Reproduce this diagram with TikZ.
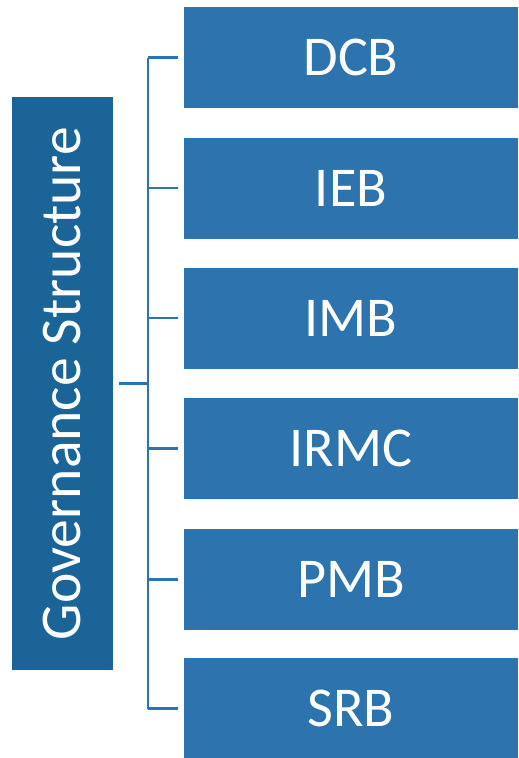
\documentclass[tikz,border=0pt]{standalone}
\usepackage{fontspec}
\setmainfont{Carlito}
\definecolor{govblue}{HTML}{1B6498}
\definecolor{boardblue}{HTML}{2D73AD}
\tikzset{
  board/.style={fill=boardblue, text=white, minimum width=334*0.02cm, minimum height=101*0.02cm, inner sep=0pt, font=\fontsize{32}{38}\selectfont},
  gov/.style={fill=govblue, text=white, minimum width=573*0.02cm, minimum height=101*0.02cm, inner sep=0pt, font=\fontsize{32.8}{38}\selectfont},
  link/.style={draw=boardblue, line width=1.7pt}
}
\begin{document}
\begin{tikzpicture}[x=0.02cm, y=-0.02cm]
			\useasboundingbox (0,0) rectangle (518,758);
			\node[gov, rotate=90] (gs) at (62.5, 383.5) {Governance Structure};
			%
			\node[board] (dcb)	at	(351, 57.5)	{DCB};
			\node[board] (ieb)	at	(351, 188)	{IEB};
			\node[board] (imb)	at	(351, 318)	{IMB};
			\node[board] (irmc)	at	(351, 448.5)	{IRMC};
			\node[board] (pmb)	at	(351, 579)	{PMB};
			\node[board] (srb)	at	(351, 708.5)	{SRB};
			%
			\coordinate (spine) at (148, 383.5);
			\draw[link, shorten <=3] (gs.south) -- (gs.south -| spine);
			\draw[link] (dcb.west -| spine) -- (srb.west -| spine);
			\draw[link, shorten >=3] (dcb.west -| spine)	-- (dcb.west);
			\draw[link, shorten >=3] (ieb.west -| spine)	-- (ieb.west);
			\draw[link, shorten >=3] (imb.west -| spine)	-- (imb.west);
			\draw[link, shorten >=3] (irmc.west -| spine)	-- (irmc.west);
			\draw[link, shorten >=3] (pmb.west -| spine)	-- (pmb.west);
			\draw[link, shorten >=3] (srb.west -| spine)	-- (srb.west);
		\end{tikzpicture}
\end{document}
